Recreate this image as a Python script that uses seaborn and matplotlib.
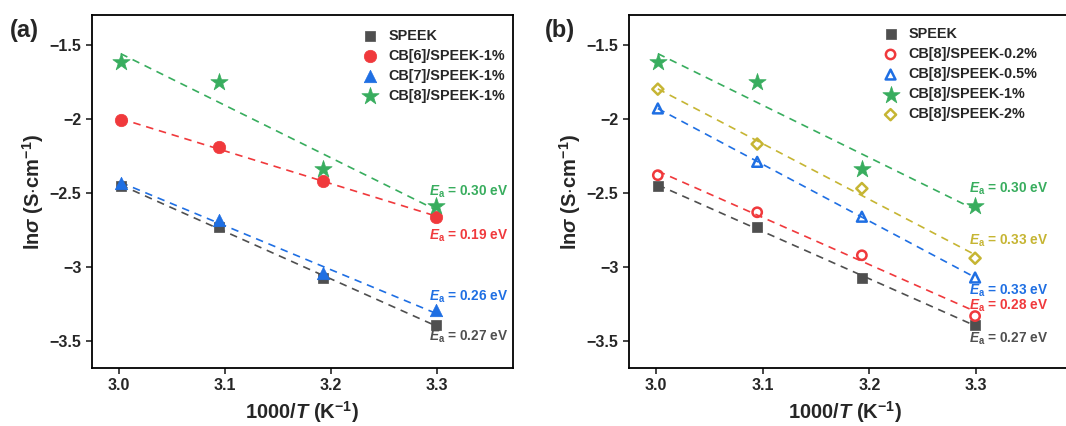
import numpy as np
import matplotlib
matplotlib.use("Agg")
import matplotlib.pyplot as plt
import seaborn as sns

sns.set_theme(style="ticks")
plt.rcParams['font.family'] = ['Liberation Sans', 'DejaVu Sans']
plt.rcParams['font.weight'] = 'bold'
plt.rcParams['mathtext.fontset'] = 'custom'
plt.rcParams['mathtext.rm'] = 'Liberation Sans:bold'
plt.rcParams['mathtext.it'] = 'Liberation Sans:italic:bold'
plt.rcParams['mathtext.bf'] = 'Liberation Sans:bold'
plt.rcParams['axes.unicode_minus'] = True

# ---------------- data ----------------
inv_T = [3.002, 3.095, 3.193, 3.299]

speek = [-2.45, -2.73, -3.07, -3.39]
cb6_1 = [-2.01, -2.19, -2.42, -2.66]
cb7_1 = [-2.43, -2.68, -3.04, -3.29]
cb8_1 = [-1.62, -1.75, -2.34, -2.59]
cb8_02 = [-2.38, -2.63, -2.92, -3.33]
cb8_05 = [-1.93, -2.29, -2.66, -3.07]
cb8_2 = [-1.80, -2.17, -2.47, -2.94]

labels_a = ["SPEEK", "CB[6]/SPEEK-1%", "CB[7]/SPEEK-1%", "CB[8]/SPEEK-1%"]
labels_b = ["SPEEK", "CB[8]/SPEEK-0.2%", "CB[8]/SPEEK-0.5%", "CB[8]/SPEEK-1%", "CB[8]/SPEEK-2%"]
ea_a = ["0.27", "0.19", "0.26", "0.30"]
ea_b = ["0.27", "0.28", "0.33", "0.30", "0.33"]
ea_y_a = [-3.47, -2.79, -3.20, -2.49]
ea_y_b = [-3.48, -3.26, -3.16, -2.47, -2.82]
yticks = [-3.5, -3, -2.5, -2, -1.5]
ytick_labels = ["\u22123.5", "\u22123", "\u22122.5", "\u22122", "\u22121.5"]
xticks = [3.0, 3.1, 3.2, 3.3]
xtick_labels = ["3.0", "3.1", "3.2", "3.3"]

GRAY = "#4f4f4f"
RED = "#f0393c"
BLUE = "#1f6fe3"
GREEN = "#38ad5e"
OLIVE = "#c6b533"

fig = plt.figure(figsize=(10.66, 4.26), dpi=100)
axA = fig.add_axes([92/1066, 58/426, 421/1066, 353/426])
axB = fig.add_axes([629/1066, 58/426, 470/1066, 353/426])


def draw(ax, series, labels, styles, colors, ea, ea_y, xmax, xlab_x):
    for y, lab, st, c in zip(series, labels, styles, colors):
        sns.regplot(x=inv_T, y=y, ax=ax, scatter=False, ci=None, truncate=True,
                    line_kws=dict(color=c, lw=1.2, ls=(0, (4.5, 3.5))))
    for y, lab, st, c in zip(series, labels, styles, colors):
        marker, s, filled = st
        if filled:
            sns.scatterplot(x=inv_T, y=y, ax=ax, marker=marker, s=s, color=c,
                            edgecolor=c, linewidth=0.5, label=lab, zorder=3)
        else:
            sns.scatterplot(x=inv_T, y=y, ax=ax, marker=marker, s=s, color=c,
                            facecolor='none', edgecolor=c, linewidth=1.8,
                            label=lab, zorder=3)
    for e, yy, c in zip(ea, ea_y, colors):
        ax.text(3.293, yy, r"$E_{\mathrm{a}}$" + f" = {e} eV", color=c,
                fontsize=9.8, fontweight='bold', va='center', ha='left')
    ax.set_xlim(2.975, xmax)
    ax.set_ylim(-3.68, -1.3)
    ax.set_xticks(xticks)
    ax.set_xticklabels(xtick_labels)
    ax.set_yticks(yticks)
    ax.set_yticklabels(ytick_labels)
    ax.tick_params(direction='out', length=4, width=1.2, labelsize=11.5)
    for sp in ax.spines.values():
        sp.set_visible(True)
        sp.set_linewidth(1.3)
        sp.set_color('black')
    ax.set_xlabel(r"1000/$T$ (K$^{-1}$)", fontsize=14.5, fontweight='bold')
    ax.xaxis.set_label_coords(xlab_x, -0.088)
    ax.set_ylabel(r"ln$\sigma$ (S$\cdot$cm$^{-1}$)", fontsize=14.5, fontweight='bold', labelpad=3)


draw(axA, [speek, cb6_1, cb7_1, cb8_1], labels_a,
     [("s", 45, True), ("o", 80, True), ("^", 80, True), ("*", 170, True)],
     [GRAY, RED, BLUE, GREEN], ea_a, ea_y_a, 3.372, 0.5)
draw(axB, [speek, cb8_02, cb8_05, cb8_1, cb8_2], labels_b,
     [("s", 45, True), ("o", 45, False), ("^", 50, False), ("*", 170, True), ("D", 32, False)],
     [GRAY, RED, BLUE, GREEN, OLIVE], ea_b, ea_y_b, 3.415, 0.46)

for ax, anchor in ((axA, (0.615, 0.985)), (axB, (0.515, 0.99))):
    h, l = ax.get_legend_handles_labels()
    ax.legend(h, l, loc='upper left', bbox_to_anchor=anchor, frameon=False,
              fontsize=10.4, handletextpad=0.5, labelspacing=0.42, borderaxespad=0.2,
              handlelength=1.5)

fig.text(10/1066, 1 - 30/426, "(a)", fontsize=17, fontweight='bold', va='center')
fig.text(545/1066, 1 - 30/426, "(b)", fontsize=17, fontweight='bold', va='center')

fig.savefig("out.png", dpi=100)
